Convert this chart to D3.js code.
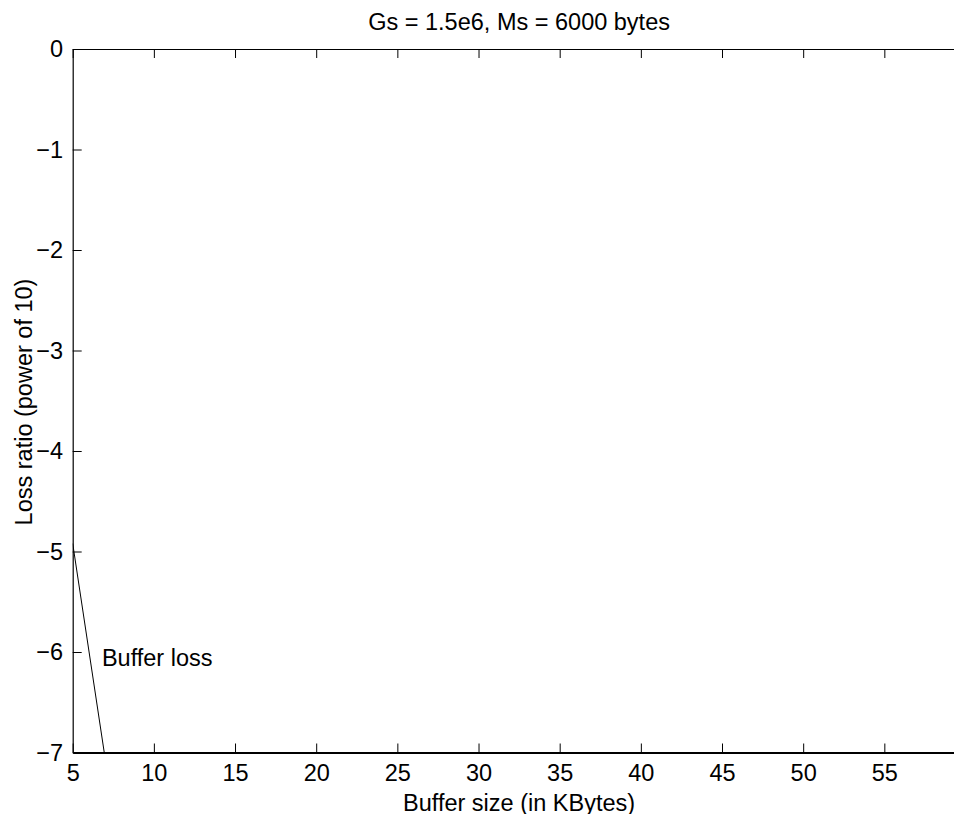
<!DOCTYPE html>
<html>
<head>
<meta charset="utf-8">
<script src="https://cdn.jsdelivr.net/npm/d3@7"></script>
<style>
  html, body { margin: 0; padding: 0; background: #fff; }
  svg { display: block; }
  text { font-family: "Liberation Sans", Arial, Helvetica, sans-serif; fill: #000; }
</style>
</head>
<body>
<script>
// ---- data ----
const bufferSizeKB = [5, 7];          // x values of the "Buffer loss" curve
const lossPow10 = [-4.92, -7.06];     // y values (log10 of loss ratio)
const xTicks = [5, 10, 15, 20, 25, 30, 35, 40, 45, 50, 55];
const yTicks = [-7, -6, -5, -4, -3, -2, -1, 0];
const titleText = "Gs = 1.5e6, Ms = 6000 bytes";
const xLabelText = "Buffer size (in KBytes)";
const yLabelText = "Loss ratio (power of 10)";
const curveLabel = { text: "Buffer loss", x: 6.8, y: -6.14 };

// ---- layout ----
const W = 954, H = 814;
const mLeft = 72.7, mRight = 965.5, mTop = 49, mBottom = 752.5;
const fs = 23.5;

const svg = d3.select("body").append("svg").attr("width", W).attr("height", H);

const x = d3.scaleLinear().domain([5, 60]).range([mLeft, mRight]);
const y = d3.scaleLinear().domain([-7, 0]).range([mBottom, mTop]);

// clip for data
svg.append("clipPath").attr("id", "plotclip")
  .append("rect").attr("x", mLeft).attr("y", mTop).attr("width", mRight - mLeft).attr("height", mBottom - mTop);

// data line
const pts = bufferSizeKB.map((d, i) => [d, lossPow10[i]]);
svg.append("path")
  .attr("clip-path", "url(#plotclip)")
  .attr("d", d3.line().x(d => x(d[0])).y(d => y(d[1]))(pts))
  .attr("fill", "none").attr("stroke", "#000").attr("stroke-width", 1);

// axes
const gx = svg.append("g").attr("transform", `translate(0,${mBottom})`)
  .call(d3.axisBottom(x).tickValues(xTicks).tickSizeInner(-9).tickSizeOuter(0).tickPadding(11.8));
const gt = svg.append("g").attr("transform", `translate(0,${mTop})`)
  .call(d3.axisTop(x).tickValues(xTicks).tickSizeInner(-9).tickSizeOuter(0).tickFormat(""));
const gy = svg.append("g").attr("transform", `translate(${mLeft},0)`)
  .call(d3.axisLeft(y).tickValues(yTicks).tickSizeInner(-9).tickSizeOuter(0).tickPadding(9.7)
    .tickFormat(d3.format("d")));

[gx, gt, gy].forEach(g => {
  g.attr("font-size", null).attr("font-family", null);
  g.selectAll("text").attr("font-size", fs).style("fill", "#000");
  g.selectAll(".tick line").attr("stroke", "#000").attr("stroke-width", 1);
  g.select(".domain").attr("stroke", "#000");
});
gx.select(".domain").attr("stroke-width", 2);
gt.select(".domain").attr("stroke-width", 1.2);
gy.select(".domain").attr("stroke-width", 1.2);

// title
svg.append("text").attr("x", (mLeft + mRight) / 2).attr("y", 30)
  .attr("text-anchor", "middle").attr("font-size", fs).text(titleText);

// x label
svg.append("text").attr("x", (mLeft + mRight) / 2).attr("y", 810.5)
  .attr("text-anchor", "middle").attr("font-size", fs).text(xLabelText);

// y label
svg.append("text").attr("transform", `translate(32,402) rotate(-90)`)
  .attr("text-anchor", "middle").attr("font-size", fs).text(yLabelText);

// curve label
svg.append("text").attr("x", x(curveLabel.x)).attr("y", y(curveLabel.y))
  .attr("font-size", fs).text(curveLabel.text);
</script>
</body>
</html>
